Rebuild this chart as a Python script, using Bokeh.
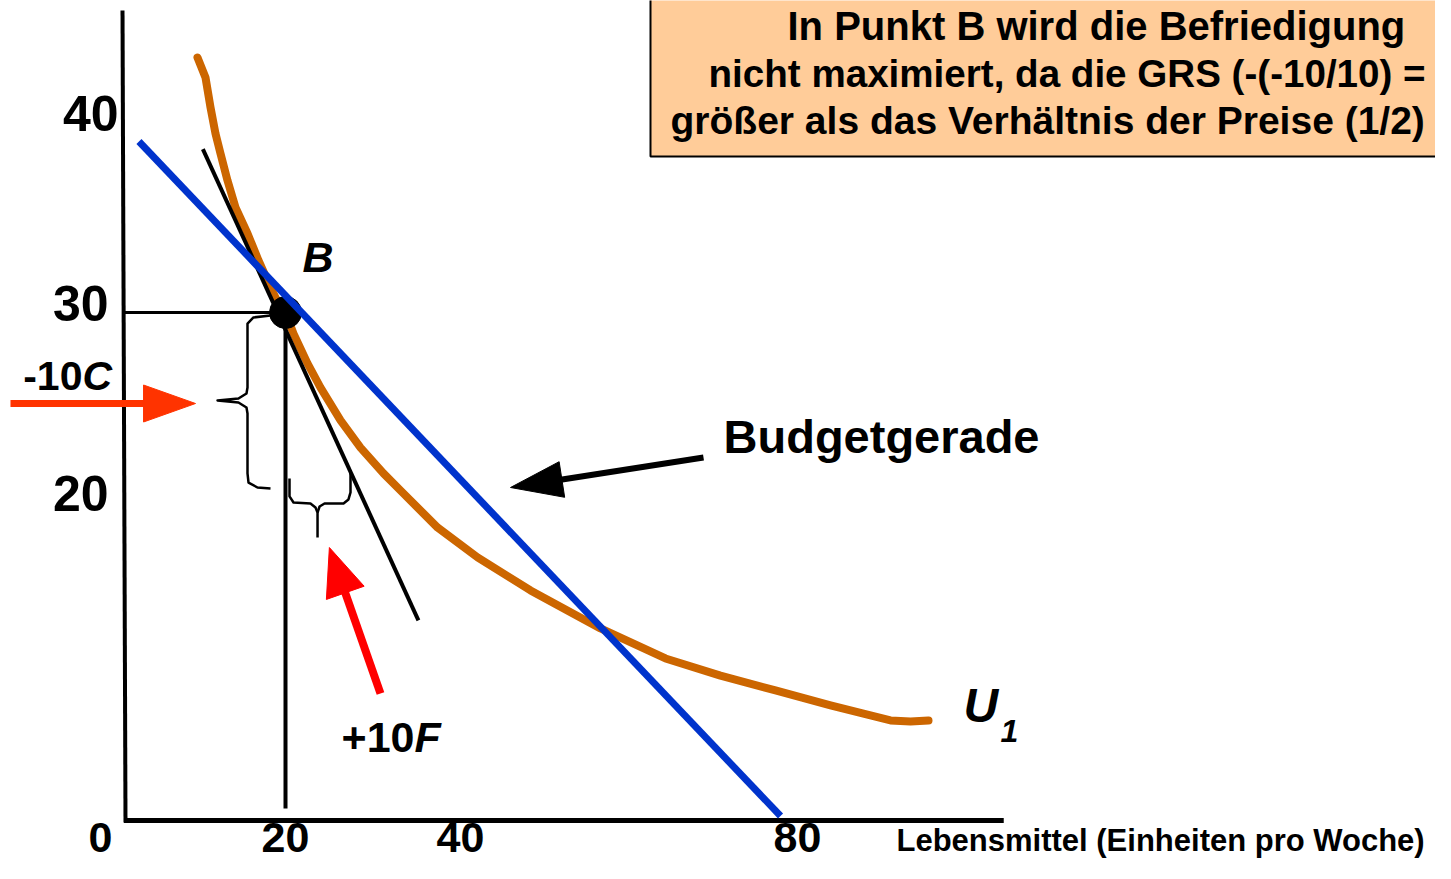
import math
from bokeh.plotting import figure
from bokeh.models import Range1d
from bokeh.core.properties import value
from bokeh.embed import file_html
from bokeh.resources import INLINE

# ---------------- data (chart units) ----------------
# Indifference curve U1 (Lebensmittel on x, Kleidung on y)
U1_x = [9.67, 10.61, 11.20, 11.78, 12.37, 13.19, 14.13, 15.54, 16.83, 18.24,
        19.41, 20.0, 20.94, 22.58, 24.11, 26.46, 28.80, 31.50, 33.5, 37.85,
        42.54, 48.76, 56.97, 64.6, 71.05, 77.51, 83.97, 88.66, 91.01, 93.36, 95.47]
U1_y = [43.42, 42.37, 40.79, 39.42, 38.37, 36.95, 35.53, 34.16, 32.74, 31.32,
        30.26, 30.0, 28.89, 27.32, 26.05, 24.32, 22.89, 21.53, 20.63, 18.68,
        17.11, 15.37, 13.37, 11.79, 10.89, 10.11, 9.32, 8.79, 8.53, 8.47, 8.53]

# Budget line (Budgetgerade)
budget_x = [2.8, 78.1]
budget_y = [39.0, 3.5]

# Tangent to U1 at B (GRS = 10/10)
tangent_x = [10.3, 35.6]
tangent_y = [38.6, 13.8]

# Point B
B_x = [20]
B_y = [30]

# Tick labels
x_ticks = [0, 20, 40, 80]
x_tick_labels = ["0", "20", "40", "80"]
y_ticks = [40, 30, 20]
y_tick_labels = ["40", "30", "20"]

# ---------------- figure ----------------
W, H = 1435, 863
SX = 8.52    # screen px per x unit
SY = 19.0    # screen px per y unit
X0 = -13.451
X1 = X0 + W / SX
Y1 = 46.421
Y0 = Y1 - H / SY
FS = 1.0     # font scale

p = figure(width=W, height=H, output_backend="svg", toolbar_location=None,
           x_range=Range1d(X0, X1), y_range=Range1d(Y0, Y1),
           x_axis_location=None, y_axis_location=None, min_border=0)
p.grid.visible = False
p.outline_line_color = None
p.background_fill_color = "white"
p.border_fill_color = "white"

FONT = value("Liberation Sans")
BASE_SHIFT = 0.36


def txt(x, y, s, size, style="bold", align="left", x_off=0):
    size = size * FS
    p.text(x=[x], y=[y], text=[s], text_font=FONT, text_font_size=f"{size:.1f}px",
           text_font_style=style, text_align=align, text_baseline="alphabetic",
           text_color="black", x_offset=x_off, y_offset=-BASE_SHIFT * size)


def arrow(x0, y0, x1, y1, color, shaft_w, head_len, head_w):
    vx, vy = (x1 - x0) * SX, (y1 - y0) * SY
    L = math.hypot(vx, vy)
    ux, uy = vx / L, vy / L
    bx, by = x1 - ux * head_len / SX, y1 - uy * head_len / SY
    nx, ny = -uy, ux
    hx, hy = nx * head_w / 2 / SX, ny * head_w / 2 / SY
    p.line([x0, bx + ux * 3 / SX], [y0, by + uy * 3 / SY], line_width=shaft_w,
           line_color=color)
    p.patch([x1, bx + hx, bx - hx], [y1, by + hy, by - hy], fill_color=color,
            line_color=color, line_width=1)


# ---------------- text box ----------------
p.quad(left=[62.84], right=[160.0], bottom=[38.21], top=[47.5],
       fill_color="#FFCC99", line_color="black", line_width=2)
txt(78.92, 44.32, "In Punkt B wird die Befriedigung", 40)
txt(69.65, 41.84, "nicht maximiert, da die GRS (-(-10/10) =", 38.6)
txt(65.19, 39.37, "größer als das Verhältnis der Preise (1/2)", 39.0)

# ---------------- axes ----------------
p.line([0.87, 1.22], [45.9, 3.16], line_width=4, line_color="black")
p.line([1.04, 104.3], [3.26, 3.26], line_width=5, line_color="black")

# reference lines at B
p.line([1.1, B_x[0]], [B_y[0], B_y[0]], line_width=3, line_color="black")
p.line([B_x[0], B_x[0]], [B_y[0], 3.9], line_width=4, line_color="black")

# ---------------- curves ----------------
p.line(U1_x, U1_y, line_width=8, line_color="#CC6600", line_cap="round",
       line_join="round")
p.line(tangent_x, tangent_y, line_width=4, line_color="black")
p.scatter(B_x, B_y, size=32, marker="circle", fill_color="black", line_color="black")
p.line(budget_x, budget_y, line_width=7, line_color="#0033CC")

# ---------------- braces ----------------
vb_x = [18.24, 16.24, 15.54, 15.54, 15.42, 14.48, 12.02, 14.48, 15.42, 15.54,
        15.54, 15.66, 16.71, 18.24]
vb_y = [29.84, 29.74, 29.42, 26.05, 25.74, 25.47, 25.37, 25.26, 25.0, 24.68,
        21.53, 21.05, 20.79, 20.74]
hb1_x = [20.47, 20.47, 20.94, 22.93, 23.52, 23.76, 23.76]
hb1_y = [21.26, 20.32, 20.0, 19.95, 19.74, 19.47, 18.16]
hb2_x = [23.76, 24.0, 24.58, 26.81, 27.39, 27.63, 27.63]
hb2_y = [19.47, 19.79, 19.95, 19.95, 20.16, 20.53, 21.68]
p.multi_line([vb_x, hb1_x, hb2_x], [vb_y, hb1_y, hb2_y], line_width=2.5,
             line_color="black", line_join="round")

# ---------------- arrows ----------------
arrow(-12.28, 25.21, 9.44, 25.21, "#FF3300", 7, 52, 37)
arrow(31.15, 9.95, 25.15, 17.63, "#FF0000", 8, 48, 40)
arrow(69.06, 22.37, 46.41, 20.79, "black", 6, 52, 36)

# ---------------- labels ----------------
txt(22.0, 32.11, "B", 43, "bold italic")
txt(-3.83, 25.89, "-10", 41, "bold", "right")
txt(-3.83, 25.89, "C", 41, "bold italic")
txt(35.14, 6.84, "+10", 43, "bold", "right")
txt(35.14, 6.84, "F", 43, "bold italic")
txt(71.41, 22.58, "Budgetgerade", 47)
txt(99.58, 8.42, "U", 48, "bold italic")
txt(103.92, 7.37, "1", 32, "bold italic")
txt(91.71, 1.63, "Lebensmittel (Einheiten pro Woche)", 31)

# tick labels
x_off = [-14.6, 0, 4.6, 0.8]
for t, lab, off in zip(x_ticks, x_tick_labels, x_off):
    txt(t, 1.53, lab, 43, "bold", "center", x_off=off)
y_right = [0.40, -0.77, -0.77]
for t, lab, xr in zip(y_ticks, y_tick_labels, y_right):
    txt(xr, t - 9 / 19.0, lab, 50, "bold", "right")

open("out.html", "w").write(file_html(p, INLINE))
